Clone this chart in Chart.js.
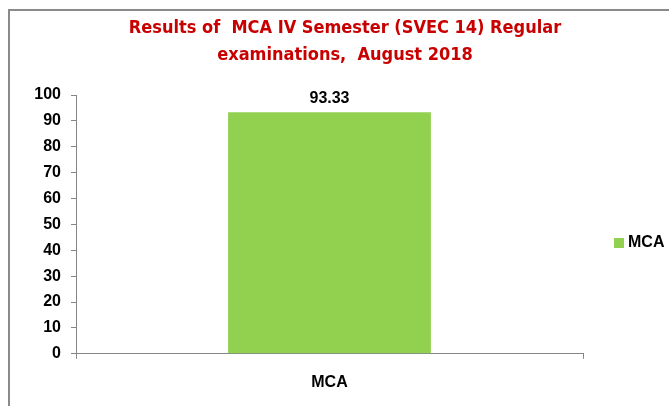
<!DOCTYPE html>
<html>
<head>
<meta charset="utf-8">
<script src="https://cdn.jsdelivr.net/npm/chart.js@4.4.1/dist/chart.umd.min.js"></script>
<style>
  html, body { margin: 0; padding: 0; background: #fff; }
  #wrap { position: relative; width: 669px; height: 406px; overflow: hidden; }
  #frame { position: absolute; left: 8px; top: 9px; width: 700px; height: 450px;
           border-left: 2px solid #8a8a8a; border-top: 2px solid #8a8a8a; pointer-events: none; }
  canvas { position: absolute; left: 0; top: 0; }
</style>
</head>
<body>
<div id="wrap">
  <canvas id="c" width="669" height="406"></canvas>
  <div id="frame"></div>
</div>
<script>
const categories = ["MCA"];
const seriesLabel = "MCA";
const seriesValues = [93.33];
const titleLines = ["Results of  MCA IV Semester (SVEC 14) Regular", "examinations,  August 2018"];
const yTicks = [0, 10, 20, 30, 40, 50, 60, 70, 80, 90, 100];

const GREEN = '#92D050';
const AXIS = '#868686';
const FONT = '"Liberation Sans", Arial, sans-serif';

const dataLabelPlugin = {
  id: 'dataLabels',
  afterDatasetsDraw(chart) {
    const ctx = chart.ctx;
    chart.data.datasets.forEach((ds, i) => {
      const meta = chart.getDatasetMeta(i);
      meta.data.forEach((bar, j) => {
        ctx.save();
        ctx.font = 'bold 16px ' + FONT;
        ctx.fillStyle = '#000';
        ctx.textAlign = 'center';
        ctx.textBaseline = 'middle';
        ctx.fillText(ds.data[j].toFixed(2), bar.x, bar.y - 14);
        ctx.restore();
      });
    });
  }
};

const legendPlugin = {
  id: 'sideLegend',
  afterDraw(chart) {
    const ctx = chart.ctx;
    const ds = chart.data.datasets[0];
    const x = chart.chartArea.right + 31;
    const y = 243;
    ctx.save();
    ctx.fillStyle = ds.backgroundColor;
    ctx.fillRect(x, y - 5, 10, 10);
    ctx.font = 'bold 16px ' + FONT;
    ctx.fillStyle = '#000';
    ctx.textAlign = 'left';
    ctx.textBaseline = 'middle';
    ctx.fillText(ds.label, x + 14, y);
    ctx.restore();
  }
};

new Chart(document.getElementById('c'), {
  type: 'bar',
  data: {
    labels: categories,
    datasets: [{
      label: seriesLabel,
      data: seriesValues,
      backgroundColor: GREEN,
      borderWidth: 0,
      categoryPercentage: 1.0,
      barPercentage: 0.4
    }]
  },
  options: {
    responsive: false,
    animation: false,
    devicePixelRatio: 1,
    layout: { padding: { left: 21, right: 0, top: 0, bottom: 0 } },
    plugins: {
      legend: { display: false },
      tooltip: { enabled: false },
      title: {
        display: true,
        text: titleLines,
        color: '#C80000',
        font: { family: '"Liberation Sans Narrow", "DejaVu Sans Condensed", "Arial Narrow", "Liberation Sans", sans-serif', size: 18, weight: 'bold', lineHeight: 1.5 },
        padding: { top: 15, bottom: 26 }
      }
    },
    scales: {
      x: {
        offset: true,
        grid: { display: true, drawOnChartArea: false, offset: true, tickLength: 5, color: AXIS },
        border: { display: true, color: AXIS, width: 1 },
        ticks: { color: '#000', font: { family: FONT, size: 16, weight: 'bold' }, padding: 14 }
      },
      y: {
        min: 0, max: 100,
        afterFit(scale) { scale.width = 55; },
        afterBuildTicks(scale) { scale.ticks = yTicks.map(v => ({ value: v })); },
        grid: { display: true, drawOnChartArea: false, tickLength: 5, color: AXIS },
        border: { display: true, color: AXIS, width: 1 },
        ticks: { color: '#000', font: { family: FONT, size: 16, weight: 'bold' }, padding: 10 }
      },
      spacer: {
        type: 'linear',
        position: 'right',
        display: true,
        afterFit(scale) { scale.width = 86; },
        grid: { display: false },
        border: { display: false },
        ticks: { display: false }
      }
    }
  },
  plugins: [dataLabelPlugin, legendPlugin]
});
</script>
</body>
</html>
